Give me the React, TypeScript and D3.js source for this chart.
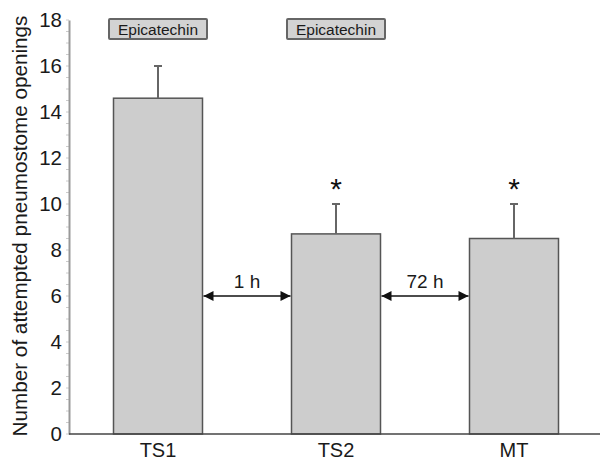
import { useEffect, useRef } from 'react';
import * as d3 from 'd3';

const CATEGORIES = ['TS1', 'TS2', 'MT'];
const MEANS = [14.6, 8.7, 8.5];
const ERRORS = [1.4, 1.3, 1.5];
const SIGNIFICANCE = ['', '*', '*'];
const TREATMENTS = ['Epicatechin', 'Epicatechin', ''];
const INTERVALS = ['1 h', '72 h'];
const INTERVAL_LEVEL = 6;
const Y_TICKS = [0, 2, 4, 6, 8, 10, 12, 14, 16, 18];

const WIDTH = 600;
const HEIGHT = 462;
const FONT = 'Liberation Sans, Arial, sans-serif';

export default function App() {
  const svgRef = useRef<SVGSVGElement>(null);

  useEffect(() => {
    if (!svgRef.current) return;
    const svg = d3.select(svgRef.current);
    svg.selectAll('*').remove();

    const x = d3.scaleBand<string>()
      .domain(CATEGORIES)
      .range([69, 603])
      .paddingInner(0.5)
      .paddingOuter(0.25);
    const y = d3.scaleLinear().domain([0, 18]).range([434, 20]);
    const bw = x.bandwidth();

    const defs = svg.append('defs');
    ['start', 'end'].forEach(kind => {
      defs.append('marker')
        .attr('id', `arrow-${kind}`)
        .attr('markerUnits', 'userSpaceOnUse')
        .attr('viewBox', '0 0 10 10')
        .attr('refX', 10).attr('refY', 5)
        .attr('markerWidth', 11).attr('markerHeight', 10)
        .attr('orient', kind === 'start' ? 'auto-start-reverse' : 'auto')
        .append('path')
        .attr('d', 'M0,0 L10,5 L0,10 Z')
        .attr('fill', '#111');
    });

    // minor ticks
    svg.append('g')
      .selectAll('line')
      .data(d3.range(0, 18.01, 0.5))
      .join('line')
      .attr('x1', 66).attr('x2', 69)
      .attr('y1', d => y(d)).attr('y2', d => y(d))
      .attr('stroke', '#ccc').attr('stroke-width', 1);

    // y axis
    svg.append('g')
      .attr('transform', 'translate(69,0)')
      .call(d3.axisLeft(y).tickValues(Y_TICKS).tickSize(0).tickPadding(7).tickFormat(d3.format('d')))
      .call(g => g.select('.domain').attr('stroke', '#999').attr('stroke-width', 2))
      .call(g => g.selectAll('.tick text')
        .attr('fill', '#1a1a1a').attr('font-size', 20.5).attr('font-family', FONT));

    // bars
    svg.append('g')
      .selectAll('rect')
      .data(CATEGORIES)
      .join('rect')
      .attr('x', d => x(d)!)
      .attr('y', (_, i) => y(MEANS[i]))
      .attr('width', bw)
      .attr('height', (_, i) => y(0) - y(MEANS[i]))
      .attr('fill', '#cdcdcd')
      .attr('stroke', '#555')
      .attr('stroke-width', 1.5);

    // error bars
    const err = svg.append('g').attr('stroke', '#666').attr('stroke-width', 2);
    CATEGORIES.forEach((c, i) => {
      const cx = x(c)! + bw / 2;
      err.append('line')
        .attr('x1', cx).attr('x2', cx)
        .attr('y1', y(MEANS[i])).attr('y2', y(MEANS[i] + ERRORS[i]));
      err.append('line')
        .attr('x1', cx - 4).attr('x2', cx + 4)
        .attr('y1', y(MEANS[i] + ERRORS[i])).attr('y2', y(MEANS[i] + ERRORS[i]));
    });

    // significance stars
    svg.append('g')
      .selectAll('text')
      .data(CATEGORIES)
      .join('text')
      .attr('x', d => x(d)! + bw / 2)
      .attr('y', (_, i) => y(MEANS[i] + ERRORS[i]) - 5)
      .attr('text-anchor', 'middle')
      .attr('font-size', 30).attr('font-family', FONT).attr('fill', '#111')
      .text((_, i) => SIGNIFICANCE[i]);

    // x axis line
    svg.append('line')
      .attr('x1', 69).attr('x2', WIDTH)
      .attr('y1', y(0)).attr('y2', y(0))
      .attr('stroke', '#444').attr('stroke-width', 1.5);

    svg.append('g')
      .selectAll('text')
      .data(CATEGORIES)
      .join('text')
      .attr('x', d => x(d)! + bw / 2)
      .attr('y', 457)
      .attr('text-anchor', 'middle')
      .attr('font-size', 20).attr('font-family', FONT).attr('fill', '#1a1a1a')
      .text(d => d);

    // treatment boxes
    const tb = svg.append('g');
    CATEGORIES.forEach((c, i) => {
      if (!TREATMENTS[i]) return;
      const cx = x(c)! + bw / 2;
      tb.append('rect')
        .attr('x', cx - 49).attr('y', 19)
        .attr('width', 98).attr('height', 20)
        .attr('rx', 1)
        .attr('fill', '#d3d3d3').attr('stroke', '#666').attr('stroke-width', 2);
      tb.append('text')
        .attr('x', cx).attr('y', 34.5)
        .attr('text-anchor', 'middle')
        .attr('font-size', 15.5).attr('font-family', FONT).attr('fill', '#1a1a1a')
        .text(TREATMENTS[i]);
    });

    // interval arrows
    const ar = svg.append('g');
    INTERVALS.forEach((label, i) => {
      const x1 = x(CATEGORIES[i])! + bw;
      const x2 = x(CATEGORIES[i + 1])!;
      const yy = y(INTERVAL_LEVEL);
      ar.append('line')
        .attr('x1', x1 + 1).attr('x2', x2 - 1)
        .attr('y1', yy).attr('y2', yy)
        .attr('stroke', '#111').attr('stroke-width', 1.5)
        .attr('marker-start', 'url(#arrow-start)')
        .attr('marker-end', 'url(#arrow-end)');
      ar.append('text')
        .attr('x', (x1 + x2) / 2).attr('y', yy - 8)
        .attr('text-anchor', 'middle')
        .attr('font-size', 19).attr('font-family', FONT).attr('fill', '#1a1a1a')
        .text(label);
    });

    // y title
    svg.append('text')
      .attr('transform', `translate(27,226) rotate(-90)`)
      .attr('text-anchor', 'middle')
      .attr('font-size', 20.7).attr('font-family', FONT).attr('fill', '#1a1a1a')
      .text('Number of attempted pneumostome openings');
  }, []);

  return (
    <svg
      ref={svgRef}
      width={WIDTH}
      height={HEIGHT}
      style={{ position: 'absolute', left: 0, top: 0, background: '#fff' }}
    />
  );
}
